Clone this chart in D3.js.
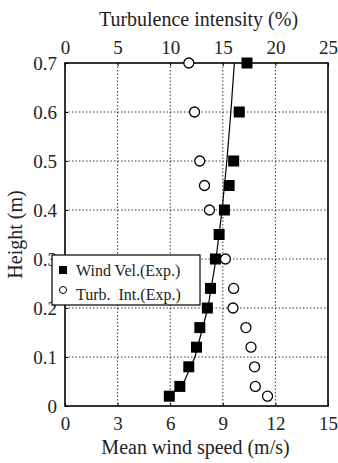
<!DOCTYPE html>
<html>
<head>
<meta charset="utf-8">
<script src="https://cdn.jsdelivr.net/npm/d3@7"></script>
</head>
<body style="margin:0;background:#fff">
<div id="chart"></div>
<script>
const width = 338
const height = 463
const margin = {top: 63, right: 10, bottom: 57, left: 65}
const serif = "Liberation Serif"

// measured wind velocity (m/s) vs height (m)
const velHeights = [0.02, 0.04, 0.08, 0.12, 0.16, 0.2, 0.24, 0.3, 0.35, 0.4, 0.45, 0.5, 0.6, 0.7]
const velValues = [5.95, 6.55, 7.06, 7.5, 7.69, 8.12, 8.3, 8.58, 8.79, 9.09, 9.36, 9.62, 9.94, 10.38]

// turbulence intensity (%) vs height (m)
const turbHeights = [0.02, 0.04, 0.08, 0.12, 0.16, 0.2, 0.24, 0.3, 0.4, 0.45, 0.5, 0.6, 0.7]
const turbValues = [19.25, 18.09, 18.02, 17.68, 17.2, 15.97, 16.03, 15.25, 13.73, 13.26, 12.81, 12.31, 11.77]

// fitted profile line
const fitHeights = [0.02, 0.05, 0.1, 0.2, 0.3, 0.4, 0.5, 0.6, 0.7]
const fitValues = [5.95, 6.8, 7.41, 8.15, 8.61, 8.96, 9.23, 9.46, 9.66]

const speedTicks = [0, 3, 6, 9, 12, 15]
const turbTicks = [0, 5, 10, 15, 20, 25]
const heightTicks = [0, 0.1, 0.2, 0.3, 0.4, 0.5, 0.6, 0.7]

const legendItems = ["Wind Vel.(Exp.)", "Turb.\u00a0 Int.(Exp.)"]

const svg = d3.select("#chart").append("svg")
    .attr("width", width)
    .attr("height", height)

const w = width - margin.left - margin.right
const h = height - margin.top - margin.bottom

const g = svg.append("g")
    .attr("transform", `translate(${margin.left},${margin.top})`)

const x = d3.scaleLinear().domain([0, 15]).range([0, w])
const xTop = d3.scaleLinear().domain([0, 25]).range([0, w])
const y = d3.scaleLinear().domain([0, 0.7]).range([h, 0])

// grid
g.selectAll(".vgrid")
    .data(speedTicks.slice(1, -1))
    .enter().append("line")
    .attr("x1", d => x(d)).attr("x2", d => x(d))
    .attr("y1", 0).attr("y2", h)
    .attr("stroke", "#000")
    .attr("stroke-width", 0.8)
    .attr("stroke-dasharray", "1.5,2")

g.selectAll(".hgrid")
    .data(heightTicks.slice(1, -1))
    .enter().append("line")
    .attr("x1", 0).attr("x2", w)
    .attr("y1", d => y(d)).attr("y2", d => y(d))
    .attr("stroke", "#000")
    .attr("stroke-width", 0.8)
    .attr("stroke-dasharray", "1.5,2")

// axes
const xAxis = g.append("g")
    .attr("transform", `translate(0,${h})`)
    .call(d3.axisBottom(x).tickValues(speedTicks).tickSize(-3).tickPadding(11))
const xAxisTop = g.append("g")
    .call(d3.axisTop(xTop).tickValues(turbTicks).tickSize(-3).tickPadding(9))
const yAxis = g.append("g")
    .call(d3.axisLeft(y).tickValues(heightTicks).tickSize(-3).tickPadding(8)
        .tickFormat(d => d === 0 ? "0" : d3.format(".1f")(d)))

for (const a of [xAxis, xAxisTop, yAxis]) {
    a.selectAll("text").attr("font-size", 19).attr("fill", "#222")
    a.select(".domain").remove()
    a.selectAll("line").attr("stroke", "#000")
}

// frame
g.append("rect")
    .attr("width", w)
    .attr("height", h)
    .attr("fill", "none")
    .attr("stroke", "#000")
    .attr("stroke-width", 1.6)

// axis titles
svg.append("text")
    .attr("x", margin.left + w / 2 + 2)
    .attr("y", 26)
    .attr("text-anchor", "middle")
    .attr("font-size", 20)
    .attr("fill", "#222")
    .text("Turbulence intensity (%)")

svg.append("text")
    .attr("x", margin.left + w / 2 - 1)
    .attr("y", 454)
    .attr("text-anchor", "middle")
    .attr("font-size", 20)
    .attr("fill", "#222")
    .text("Mean wind speed (m/s)")

svg.append("text")
    .attr("transform", `translate(15,${margin.top + h / 2}) rotate(-90)`)
    .attr("text-anchor", "middle")
    .attr("dy", "0.35em")
    .attr("font-size", 20)
    .attr("fill", "#222")
    .text("Height (m)")

// fitted line
const line = d3.line()
    .x(d => x(d[1]))
    .y(d => y(d[0]))
g.append("path")
    .datum(d3.zip(fitHeights, fitValues))
    .attr("d", line)
    .attr("fill", "none")
    .attr("stroke", "#000")
    .attr("stroke-width", 1.2)

// turbulence circles
g.selectAll(".turb")
    .data(d3.zip(turbHeights, turbValues))
    .enter().append("circle")
    .attr("cx", d => xTop(d[1]))
    .attr("cy", d => y(d[0]))
    .attr("r", 5)
    .attr("fill", "#fff")
    .attr("stroke", "#000")
    .attr("stroke-width", 1.3)

// velocity squares
const sq = 11
g.selectAll(".vel")
    .data(d3.zip(velHeights, velValues))
    .enter().append("rect")
    .attr("x", d => x(d[1]) - sq / 2)
    .attr("y", d => y(d[0]) - sq / 2)
    .attr("width", sq)
    .attr("height", sq)
    .attr("fill", "#000")

// legend
const lg = svg.append("g").attr("transform", "translate(52,255)")
lg.append("rect")
    .attr("width", 148)
    .attr("height", 50)
    .attr("fill", "#fff")
    .attr("stroke", "#000")
    .attr("stroke-width", 1.2)
lg.append("rect")
    .attr("x", 7).attr("y", 11)
    .attr("width", 8).attr("height", 8)
    .attr("fill", "#000")
lg.append("circle")
    .attr("cx", 11).attr("cy", 35)
    .attr("r", 3.5)
    .attr("fill", "#fff")
    .attr("stroke", "#000")
    .attr("stroke-width", 1)
lg.selectAll(".ltext")
    .data(legendItems)
    .enter().append("text")
    .attr("x", 24)
    .attr("y", (d, i) => 15 + i * 24)
    .attr("dy", "0.35em")
    .attr("font-size", 16)
    .attr("fill", "#222")
    .text(d => d)

// every text gets the serif face directly
svg.selectAll("text").attr("font-family", serif)
</script>
</body>
</html>
